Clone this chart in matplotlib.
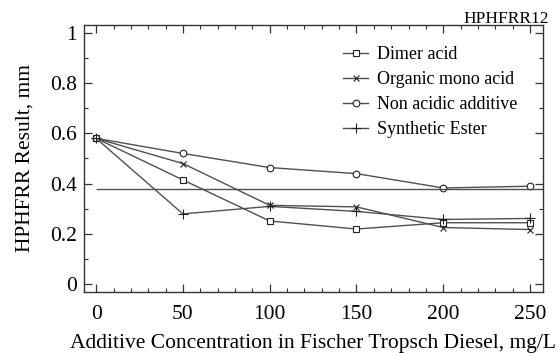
import matplotlib
matplotlib.use("Agg")
import matplotlib.pyplot as plt
from matplotlib.ticker import MultipleLocator

plt.rcParams['font.family'] = ['Liberation Serif', 'DejaVu Serif']

# Data
concentration = [0, 50, 100, 150, 200, 250]
dimer_acid = [0.58, 0.415, 0.252, 0.220, 0.245, 0.245]
organic_mono_acid = [0.58, 0.480, 0.314, 0.308, 0.226, 0.218]
non_acidic_additive = [0.58, 0.520, 0.464, 0.440, 0.383, 0.390]
synthetic_ester = [0.58, 0.280, 0.310, 0.290, 0.258, 0.262]
series_labels = ["Dimer acid", "Organic mono acid", "Non acidic additive", "Synthetic Ester"]
wear_limit = 0.38

fig = plt.figure(figsize=(5.58, 3.53), dpi=100)
ax = fig.add_axes([84 / 558, 1 - 292 / 353, (543 - 84) / 558, (292 - 25) / 353])

line_col = "#505050"
styles = [
    dict(marker="s", ms=4.0),
    dict(marker="x", ms=5.0),
    dict(marker="o", ms=4.8),
    dict(marker="+", ms=7.0),
]
all_series = [dimer_acid, organic_mono_acid, non_acidic_additive, synthetic_ester]
for vals, lab, st in zip(all_series, series_labels, styles):
    ax.plot(concentration, vals, color=line_col, lw=1.0, label=lab,
            marker=st["marker"], ms=st["ms"], mfc="white", mec="#222222", mew=0.8)

xmin, xmax = -7, 257.5
ax.hlines(wear_limit, 0, xmax, color=line_col, lw=1.0)

ax.set_xlim(xmin, xmax)
ax.set_ylim(-0.03, 1.03)
ax.xaxis.set_major_locator(MultipleLocator(50))
ax.xaxis.set_minor_locator(MultipleLocator(10))
ax.yaxis.set_major_locator(MultipleLocator(0.2))
ax.yaxis.set_minor_locator(MultipleLocator(0.1))
ax.set_yticks([0, 0.2, 0.4, 0.6, 0.8, 1.0])
ax.set_yticklabels(["0", "0.2", "0.4", "0.6", "0.8", "1"])
ax.tick_params(which="both", direction="in", top=True, right=True, labelsize=15.5, color="#333333")
ax.tick_params(axis="x", which="major", pad=9.5)
ax.tick_params(axis="y", which="major", pad=5)
ax.tick_params(which="major", length=6, width=0.9)
ax.tick_params(which="minor", length=3, width=0.8)
for s in ax.spines.values():
    s.set_linewidth(1.0)
    s.set_color("#333333")

ax.set_xlabel("Additive Concentration in Fischer Tropsch Diesel, mg/L", fontsize=15.5, labelpad=7)
ax.set_ylabel("HPHFRR Result, mm", fontsize=15.5, labelpad=11)

leg = ax.legend(loc="upper left", bbox_to_anchor=((343 - 84) / 459, (292 - 46) / 267), frameon=False,
                fontsize=13, handlelength=1.4, handletextpad=0.5, labelspacing=0.45,
                borderaxespad=0, borderpad=0)

fig.text(549 / 558, 1 - 23 / 353, "HPHFRR12", ha="right", va="baseline", fontsize=12.5)

fig.savefig("out.png", dpi=100)
